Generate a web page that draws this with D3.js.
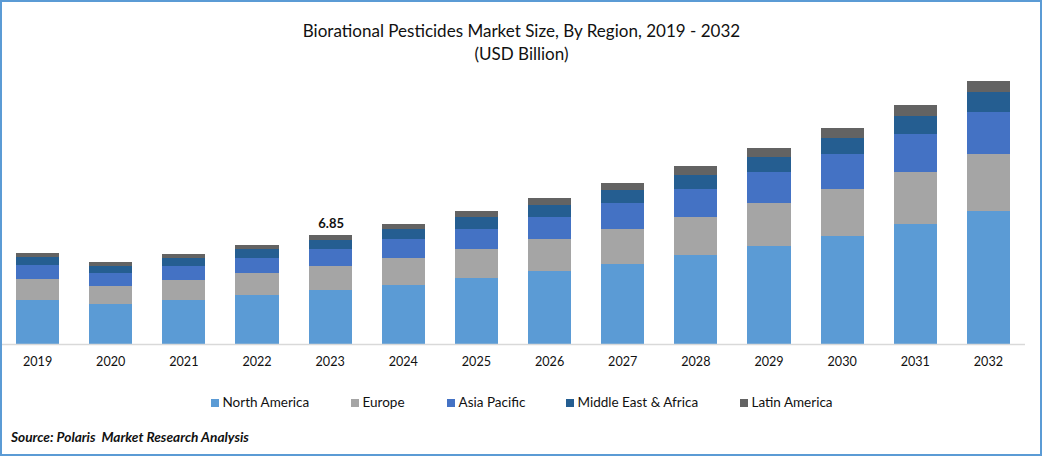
<!DOCTYPE html>
<html>
<head>
<meta charset="utf-8">
<script src="https://cdnjs.cloudflare.com/ajax/libs/d3/7.8.5/d3.min.js"></script>
<style>
    html, body { margin: 0; padding: 0; background: #fff; }
    svg { display: block; font-family: Lato, sans-serif; }
</style>
</head>
<body>
<svg id="chart" width="1042" height="456"></svg>
<script>
var years = ['2019', '2020', '2021', '2022', '2023', '2024', '2025', '2026', '2027', '2028', '2029', '2030', '2031', '2032'];
var regions = ['North America', 'Europe', 'Asia Pacific', 'Middle East & Africa', 'Latin America'];
var colors = ['#5b9bd5', '#a5a5a5', '#4472c4', '#255e91', '#636363'];

var northAmerica = [2.77, 2.51, 2.77, 3.08, 3.39, 3.71, 4.15, 4.59, 5.03, 5.59, 6.16, 6.79, 7.54, 8.36];
var europe = [1.32, 1.13, 1.26, 1.38, 1.51, 1.70, 1.82, 2.01, 2.20, 2.39, 2.70, 2.95, 3.27, 3.58];
var asiaPacific = [0.88, 0.82, 0.88, 0.94, 1.07, 1.19, 1.26, 1.38, 1.63, 1.76, 1.95, 2.20, 2.39, 2.64];
var middleEastAfrica = [0.50, 0.44, 0.50, 0.57, 0.57, 0.63, 0.75, 0.75, 0.82, 0.88, 0.94, 1.01, 1.13, 1.26];
var latinAmerica = [0.25, 0.25, 0.25, 0.25, 0.31, 0.31, 0.38, 0.44, 0.44, 0.57, 0.57, 0.63, 0.69, 0.69];
var seriesValues = [northAmerica, europe, asiaPacific, middleEastAfrica, latinAmerica];

var labelYear = '2023';
var labelText = '6.85';

var svg = d3.select('#chart');

// outer frame
svg.append('rect')
    .attr('x', 1)
    .attr('y', 1)
    .attr('width', 1040)
    .attr('height', 454)
    .attr('fill', '#fff')
    .attr('stroke', '#5b9bd5')
    .attr('stroke-width', 2);

svg.append('text')
    .attr('x', 521.5)
    .attr('y', 37)
    .attr('text-anchor', 'middle')
    .attr('font-size', 17.05)
    .attr('fill', '#111')
    .text('Biorational Pesticides Market Size, By Region, 2019 - 2032');

svg.append('text')
    .attr('x', 521.5)
    .attr('y', 60)
    .attr('text-anchor', 'middle')
    .attr('font-size', 17.05)
    .attr('fill', '#111')
    .text('(USD Billion)');

var x = d3.scaleBand()
    .domain(years)
    .range([1, 1025])
    .paddingInner(0.412)
    .paddingOuter(0.206);

var y = d3.scaleLinear()
    .domain([0, 6.85])
    .range([344, 235]);

var rows = years.map(function(year, i) {
    var row = {year: year};
    regions.forEach(function(region, j) {
        row[region] = seriesValues[j][i];
    });
    return row;
});

var stacked = d3.stack().keys(regions)(rows);

svg.append('g')
    .selectAll('g')
    .data(stacked)
    .enter()
    .append('g')
    .attr('fill', function(d, i) { return colors[i]; })
    .selectAll('rect')
    .data(function(d) { return d; })
    .enter()
    .append('rect')
    .attr('x', function(d) { return x(d.data.year); })
    .attr('y', function(d) { return y(d[1]); })
    .attr('width', x.bandwidth())
    .attr('height', function(d) { return y(d[0]) - y(d[1]); })
    .attr('shape-rendering', 'crispEdges');

var axis = svg.append('g')
    .attr('transform', 'translate(0,344)')
    .call(d3.axisBottom(x).tickSize(0).tickPadding(13));
axis.select('.domain')
    .attr('d', 'M2,0.5H1025')
    .attr('stroke', '#d9d9d9')
    .attr('stroke-width', 1.5);
axis.selectAll('text')
    .attr('font-family', 'Lato, sans-serif')
    .attr('font-size', 12.6)
    .attr('fill', '#111');

// only the 2023 total is labelled
var labelRow = stacked[stacked.length - 1][years.indexOf(labelYear)];
svg.append('text')
    .attr('x', x(labelYear) + x.bandwidth() / 2 + 1)
    .attr('y', y(labelRow[1]) - 7)
    .attr('text-anchor', 'middle')
    .attr('font-size', 13)
    .attr('font-weight', 700)
    .attr('fill', '#111')
    .text(labelText);

var legendX = [211, 351, 447, 566, 740];
var legend = svg.append('g')
    .selectAll('g')
    .data(regions)
    .enter()
    .append('g')
    .attr('transform', function(d, i) { return 'translate(' + legendX[i] + ',399)'; });
legend.append('rect')
    .attr('width', 8)
    .attr('height', 8)
    .attr('fill', function(d, i) { return colors[i]; });
legend.append('text')
    .attr('x', 11.5)
    .attr('y', 8)
    .attr('font-size', 13.5)
    .attr('fill', '#111')
    .text(function(d) { return d; });

svg.append('text')
    .attr('x', 11)
    .attr('y', 442)
    .attr('font-size', 13.7)
    .attr('font-weight', 700)
    .attr('font-style', 'italic')
    .attr('fill', '#111')
    .attr('xml:space', 'preserve')
    .text('Source: Polaris  Market Research Analysis');
</script>
</body>
</html>
